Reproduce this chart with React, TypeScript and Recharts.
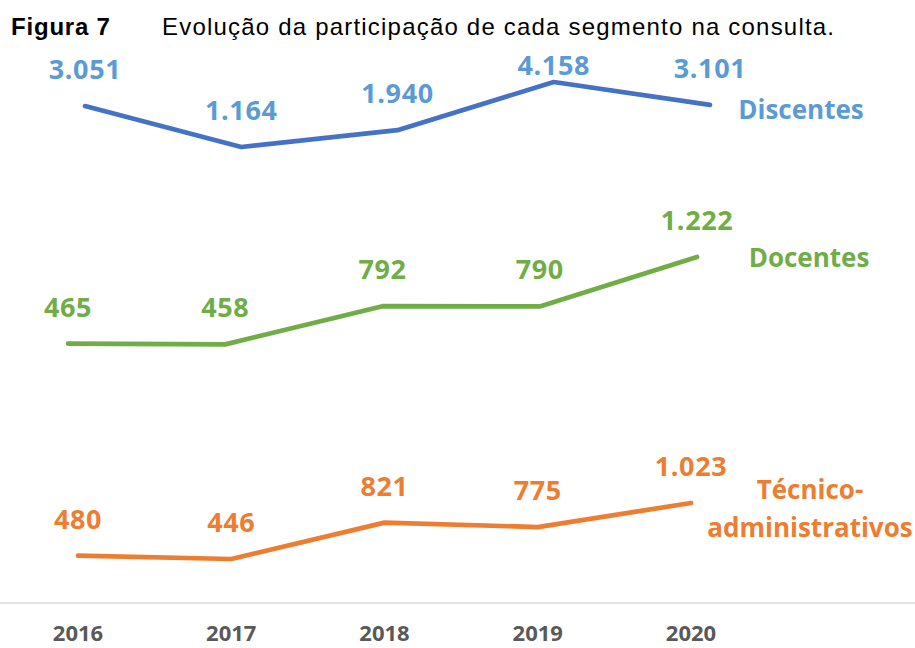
import React from "react";
import { LineChart, Line, XAxis, YAxis, LabelList } from "recharts";

const years = ["2016", "2017", "2018", "2019", "2020"];
const discentes = [3051, 1164, 1940, 4158, 3101];
const docentes = [465, 458, 792, 790, 1222];
const tecnicos = [480, 446, 821, 775, 1023];

const data = years.map((year, i) => ({
  idx: i,
  year,
  discentes: discentes[i],
  docentes: docentes[i],
  tecnicos: tecnicos[i],
}));

const FONT = "'Open Sans', sans-serif";

const fmt = (v: number) => String(v).replace(/\B(?=(\d{3})+(?!\d))/g, ".");

// value label above each point; kept below a minimum baseline near the top
const valueLabel = (color: string, minY = 0) => (props: any) => {
  const { x, y, value, index } = props;
  const ty = Math.max(y - 27, minY);
  return (
    <text
      key={`v-${index}`}
      x={x}
      y={ty}
      fill={color}
      textAnchor="middle"
      fontFamily={FONT}
      fontWeight={700}
      fontSize={27}
      letterSpacing={0.6}
    >
      {fmt(value)}
    </text>
  );
};

// series name next to the last point
const nameLabel = (lines: string[], color: string, dx: number, dy: number) => (props: any) => {
  const { x, y, index } = props;
  if (index !== years.length - 1) return null;
  return (
    <text
      key="name"
      x={x + dx}
      y={y + dy}
      fill={color}
      textAnchor="middle"
      fontFamily={FONT}
      fontWeight={700}
      fontSize={26}
    >
      {lines.map((l, k) => (
        <tspan key={l} x={x + dx} dy={k === 0 ? 0 : 38}>
          {l}
        </tspan>
      ))}
    </text>
  );
};

const titleStyle: React.CSSProperties = {
  position: "absolute",
  top: 15,
  fontFamily: "Arial, 'Liberation Sans', sans-serif",
  fontSize: 24,
  lineHeight: "24px",
  letterSpacing: 1.2,
  color: "#000",
  whiteSpace: "nowrap",
};

const lineStyle = {
  type: "linear" as const,
  strokeWidth: 4.7,
  strokeLinecap: "round" as const,
  strokeLinejoin: "round" as const,
  dot: false,
  activeDot: false,
  isAnimationActive: false,
};

export default function App() {
  return (
    <div style={{ position: "absolute", left: 0, top: 0, width: 915, height: 648, background: "#fff" }}>
      <div style={{ ...titleStyle, left: 11, fontWeight: 700, letterSpacing: 0.8 }}>Figura 7</div>
      <div style={{ ...titleStyle, left: 162 }}>Evolução da participação de cada segmento na consulta.</div>
      <LineChart
        width={915}
        height={648}
        data={data}
        margin={{ top: 0, right: 0, left: 0, bottom: 0 }}
      >
        <XAxis xAxisId="dis" type="number" dataKey="idx" domain={[-0.544, 5.312]} height={0} hide />
        <XAxis xAxisId="doc" type="number" dataKey="idx" domain={[-0.4324, 5.386]} height={0} hide />
        <XAxis
          xAxisId="tec"
          type="number"
          dataKey="idx"
          domain={[-0.509, 5.4617]}
          ticks={[0, 1, 2, 3, 4]}
          tickFormatter={(i: number) => years[i]}
          height={45}
          axisLine={{ stroke: "#D9D9D9", strokeWidth: 1.5 }}
          tickLine={false}
          tickSize={0}
          tickMargin={22}
          tick={{ fill: "#595959", fontSize: 22, fontWeight: 700, fontFamily: FONT }}
        />
        <YAxis yAxisId="dis" domain={[-19840, 7935]} width={0} hide />
        <YAxis yAxisId="doc" domain={[-1802.5, 3468.5]} width={0} hide />
        <YAxis yAxisId="tec" domain={[-7, 6203]} width={0} hide />

        <Line {...lineStyle} xAxisId="dis" yAxisId="dis" dataKey="discentes" stroke="#4472C4">
          <LabelList dataKey="discentes" content={valueLabel("#5B9BD5", 75)} />
          <LabelList dataKey="discentes" content={nameLabel(["Discentes"], "#5B9BD5", 91, 14)} />
        </Line>
        <Line {...lineStyle} xAxisId="doc" yAxisId="doc" dataKey="docentes" stroke="#70AD47">
          <LabelList dataKey="docentes" content={valueLabel("#70AD47")} />
          <LabelList dataKey="docentes" content={nameLabel(["Docentes"], "#70AD47", 112, 10)} />
        </Line>
        <Line {...lineStyle} xAxisId="tec" yAxisId="tec" dataKey="tecnicos" stroke="#ED7D31">
          <LabelList dataKey="tecnicos" content={valueLabel("#ED7D31")} />
          <LabelList
            dataKey="tecnicos"
            content={nameLabel(["Técnico-", "administrativos"], "#ED7D31", 119, -4)}
          />
        </Line>
      </LineChart>
    </div>
  );
}
